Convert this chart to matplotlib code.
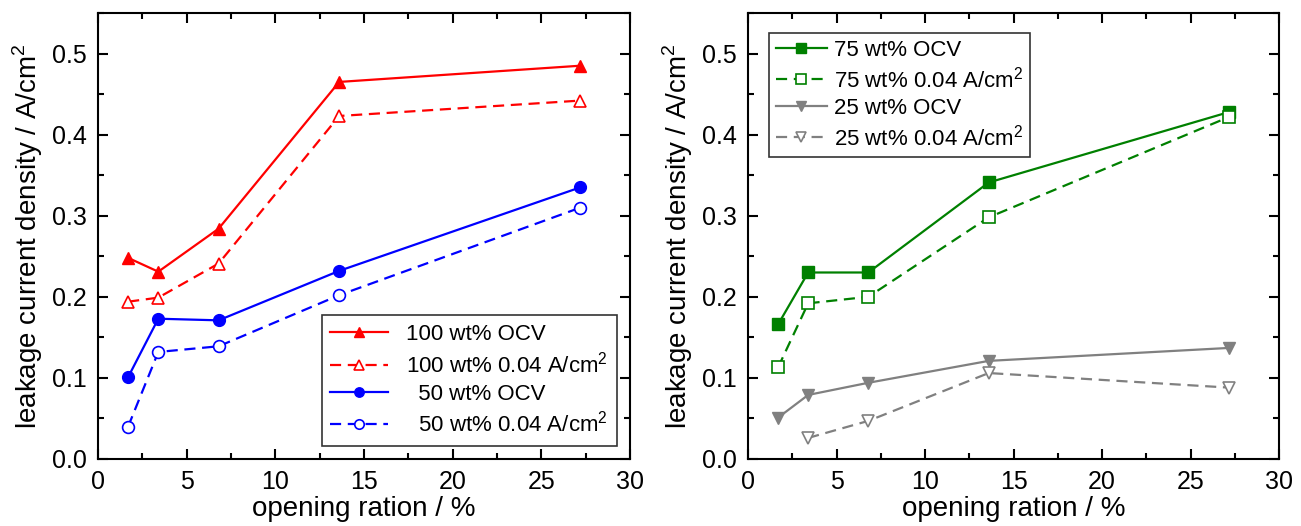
import matplotlib
matplotlib.use("Agg")
import matplotlib.pyplot as plt
from matplotlib.ticker import MultipleLocator

plt.rcParams['font.family'] = ['Liberation Sans', 'DejaVu Sans']
plt.rcParams['mathtext.fontset'] = 'custom'
plt.rcParams['mathtext.rm'] = 'Liberation Sans'

# opening ratio in %
ratio = [1.7, 3.4, 6.8, 13.6, 27.2]

# left panel
w100_ocv = [0.248, 0.231, 0.284, 0.465, 0.485]
w100_004 = [0.194, 0.199, 0.241, 0.423, 0.442]
w50_ocv = [0.101, 0.173, 0.171, 0.232, 0.335]
w50_004 = [0.040, 0.132, 0.139, 0.202, 0.310]

# right panel
w75_ocv = [0.166, 0.230, 0.230, 0.341, 0.428]
w75_004 = [0.113, 0.192, 0.200, 0.298, 0.422]
w25_ocv = [0.051, 0.079, 0.094, 0.121, 0.137]
ratio_25 = [3.4, 6.8, 13.6, 27.2]
w25_004 = [0.026, 0.047, 0.106, 0.088]

fig = plt.figure(figsize=(13.01, 5.26), dpi=100)
ax1 = fig.add_axes([98/1301, 67/526, 532/1301, 446/526])
ax2 = fig.add_axes([748/1301, 67/526, 531/1301, 446/526])

ms = 8.5
lw = 1.6
mew = 1.2

ax1.plot(ratio, w100_ocv, '-', color='red', marker='^', ms=ms, lw=lw, label='100 wt% OCV')
ax1.plot(ratio, w100_004, '--', color='red', marker='^', ms=ms, lw=lw, mfc='white', mew=mew,
         label='100 wt% 0.04 A/cm$^2$', dashes=(5, 3))
ax1.plot(ratio, w50_ocv, '-', color='blue', marker='o', ms=ms, lw=lw, label='  50 wt% OCV')
ax1.plot(ratio, w50_004, '--', color='blue', marker='o', ms=ms, lw=lw, mfc='white', mew=mew,
         label='  50 wt% 0.04 A/cm$^2$', dashes=(5, 3))

green = '#008000'
gray = '#808080'
ax2.plot(ratio, w75_ocv, '-', color=green, marker='s', ms=ms, lw=lw, label='75 wt% OCV')
ax2.plot(ratio, w75_004, '--', color=green, marker='s', ms=ms, lw=lw, mfc='white', mew=mew,
         label='75 wt% 0.04 A/cm$^2$', dashes=(5, 3))
ax2.plot(ratio, w25_ocv, '-', color=gray, marker='v', ms=ms, lw=lw, label='25 wt% OCV')
ax2.plot(ratio_25, w25_004, '--', color=gray, marker='v', ms=ms, lw=lw, mfc='white', mew=mew,
         label='25 wt% 0.04 A/cm$^2$', dashes=(5, 3))

for ax in (ax1, ax2):
    ax.set_xlim(0, 30)
    ax.set_ylim(0, 0.55)
    ax.xaxis.set_major_locator(MultipleLocator(5))
    ax.xaxis.set_minor_locator(MultipleLocator(2.5))
    ax.yaxis.set_minor_locator(MultipleLocator(0.05))
    ax.set_yticks([0, 0.1, 0.2, 0.3, 0.4, 0.5])
    ax.set_yticklabels(['0.0', '0.1', '0.2', '0.3', '0.4', '0.5'])
    ax.tick_params(which='both', direction='in', top=True, right=True, labelsize=18, width=1.5)
    ax.tick_params(which='major', length=7, pad=8)
    ax.tick_params(which='minor', length=4)
    for s in ax.spines.values():
        s.set_linewidth(1.5)
    ax.set_xlabel('opening ration / %', fontsize=20, labelpad=1)
    ax.set_ylabel('leakage current density / A/cm$^2$', fontsize=20, labelpad=5)

leg1 = ax1.legend(loc='lower right', bbox_to_anchor=(0.975, 0.03), fontsize=16, frameon=True,
                  fancybox=False, edgecolor='black', handlelength=2.6, borderpad=0.4,
                  labelspacing=0.28, markerscale=0.8, handletextpad=0.8, borderaxespad=0)
leg1.get_frame().set_linewidth(1.2)
leg2 = ax2.legend(loc='upper left', bbox_to_anchor=(0.04, 0.955), fontsize=16, frameon=True,
                  fancybox=False, edgecolor='black', handlelength=2.3, borderpad=0.3,
                  labelspacing=0.25, markerscale=0.8, handletextpad=0.3, borderaxespad=0)
leg2.get_frame().set_linewidth(1.2)

fig.savefig('out.png', dpi=100)
